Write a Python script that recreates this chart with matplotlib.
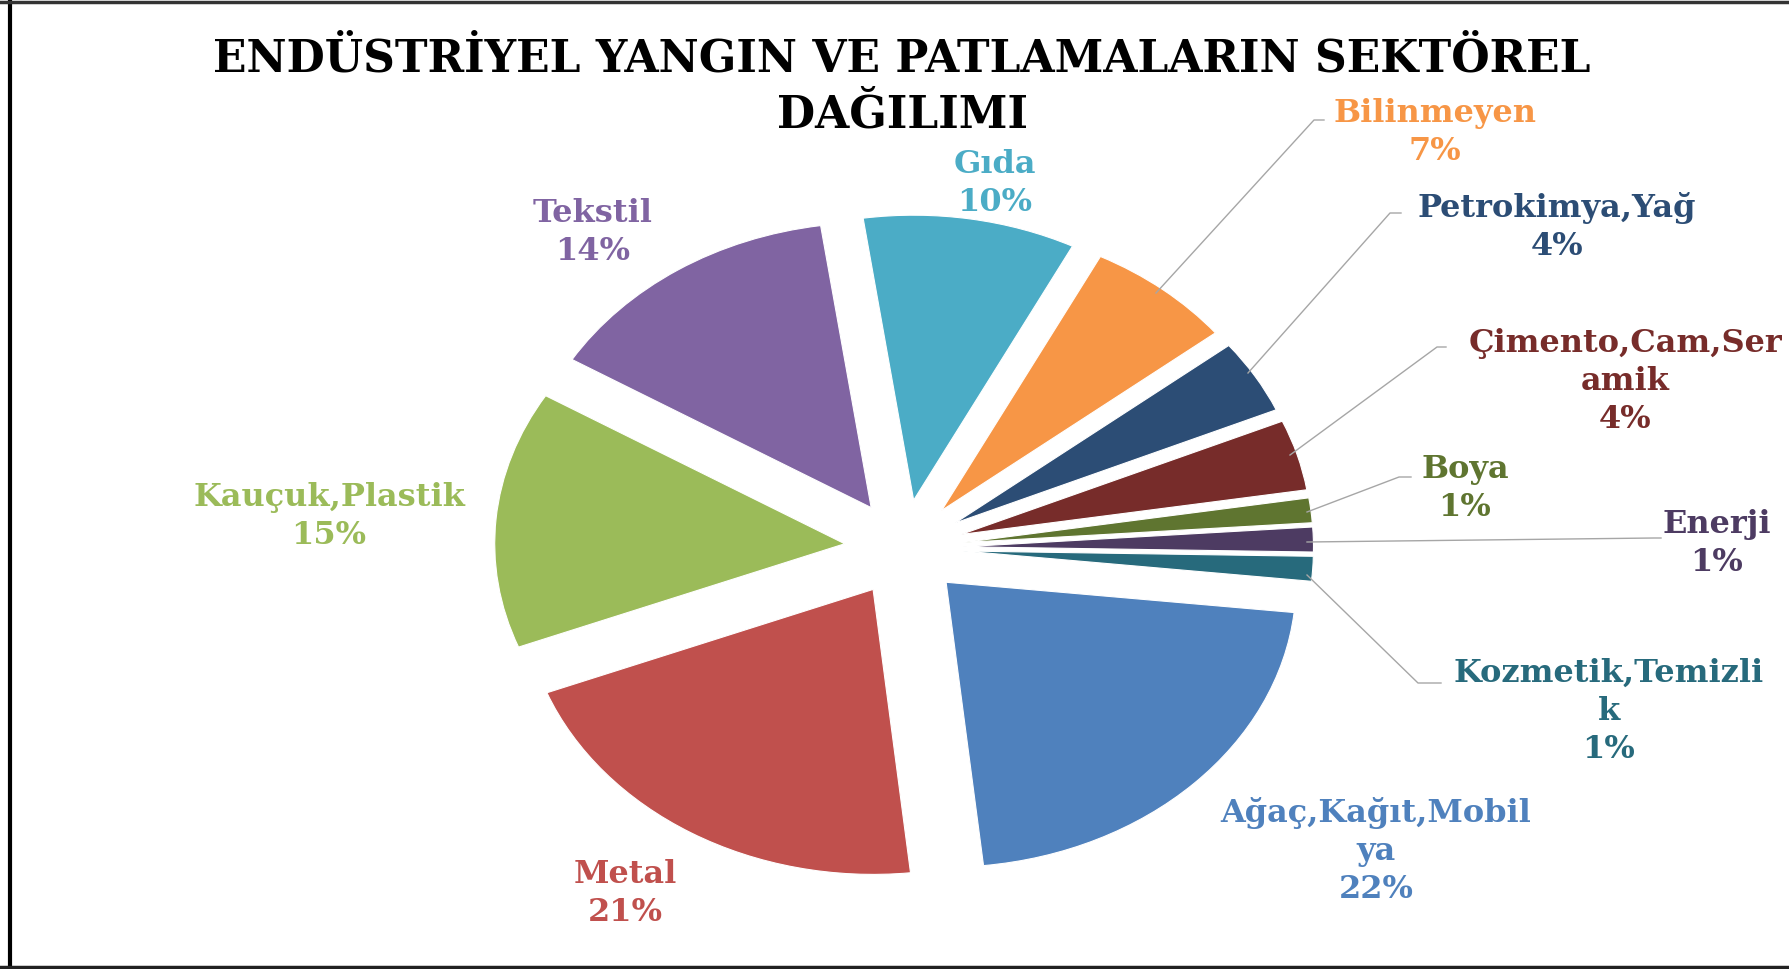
import matplotlib
matplotlib.use("Agg")
import matplotlib.pyplot as plt
from matplotlib.lines import Line2D

# --- data (Excel series order) ---
sectors = ["Ağaç,Kağıt,Mobil\nya", "Metal", "Kauçuk,Plastik", "Tekstil", "Gıda",
           "Bilinmeyen", "Petrokimya,Yağ", "Çimento,Cam,Ser\namik", "Boya", "Enerji",
           "Kozmetik,Temizli\nk"]
shares = [21.6, 20.8, 14.6, 14.0, 9.8, 6.8, 4.2, 4.0, 1.4, 1.4, 1.4]
colors = ["#4F81BD", "#C0504D", "#9BBB59", "#8064A2", "#4BACC6", "#F79646",
          "#2C4D75", "#772C2A", "#5F7530", "#4D3B62", "#276A7C"]
title = "ENDÜSTRİYEL YANGIN VE PATLAMALARIN SEKTÖREL\nDAĞILIMI"

W, H = 1789, 969
CX, CY = 904, 548      # pie centre (pixels, from top)
RX, RY = 350, 285      # the picture is squashed, so the pie is an ellipse

# label anchor (x centre, baseline of first line), in pixels from top-left
label_pos = [(1376, 822), (625, 883), (329, 506), (593, 222), (995, 173),
             (1435, 122), (1557, 217), (1625, 352), (1465, 478), (1717, 533),
             (1609, 682)]
# leader lines, pixels
leaders = {
    5: [(1156, 293), (1314, 120), (1324, 120)],
    6: [(1248, 373), (1390, 213), (1401, 213)],
    7: [(1290, 455), (1437, 347), (1446, 347)],
    8: [(1307, 512), (1399, 477), (1411, 477)],
    9: [(1307, 542), (1654, 538), (1661, 538)],
    10: [(1307, 575), (1418, 683), (1441, 683)],
}


def to_data(px, py):
    return (px - CX) / RX, (CY - py) / RY


fig = plt.figure(figsize=(W / 100, H / 100), dpi=100)
ax = fig.add_axes([0, 0, 1, 1])

ax.pie(shares, colors=colors, startangle=-6.1, counterclock=False,
       explode=[0.17] * len(shares), radius=1, center=(0, 0),
       wedgeprops=dict(edgecolor="white", linewidth=0.8))
ax.set_aspect("auto")
ax.set_xlim(-CX / RX, (W - CX) / RX)
ax.set_ylim(-(H - CY) / RY, CY / RY)
ax.axis("off")

total = sum(shares)
pitch = 38
for i, name in enumerate(sectors):
    lines = name.split("\n") + [f"{shares[i] / total * 100:.0f}%"]
    x0, y0 = label_pos[i]
    for k, line in enumerate(lines):
        fig.text(x0 / W, 1 - (y0 + k * pitch) / H, line, ha="center", va="baseline",
                 fontsize=23, fontweight="bold", family="DejaVu Serif",
                 color=colors[i])

for i, pts in leaders.items():
    xs, ys = zip(*[to_data(*p) for p in pts])
    ax.plot(xs, ys, color="#A6A6A6", lw=1.0)

for k, line in enumerate(title.split("\n")):
    fig.text(902 / W, 1 - (72 + k * 55) / H, line, ha="center", va="baseline",
             fontsize=31.7, fontweight="bold", family="DejaVu Serif", color="black")

# frame around the picture (left, top, bottom only)
fig.add_artist(Line2D([10 / W, 10 / W], [0, 1], color="black", lw=3))
fig.add_artist(Line2D([0, 1], [1 - 2 / H, 1 - 2 / H], color="#333333", lw=2.5))
fig.add_artist(Line2D([0, 1], [2 / H, 2 / H], color="#222222", lw=2.5))

fig.savefig("out.png", dpi=100, facecolor="white")
